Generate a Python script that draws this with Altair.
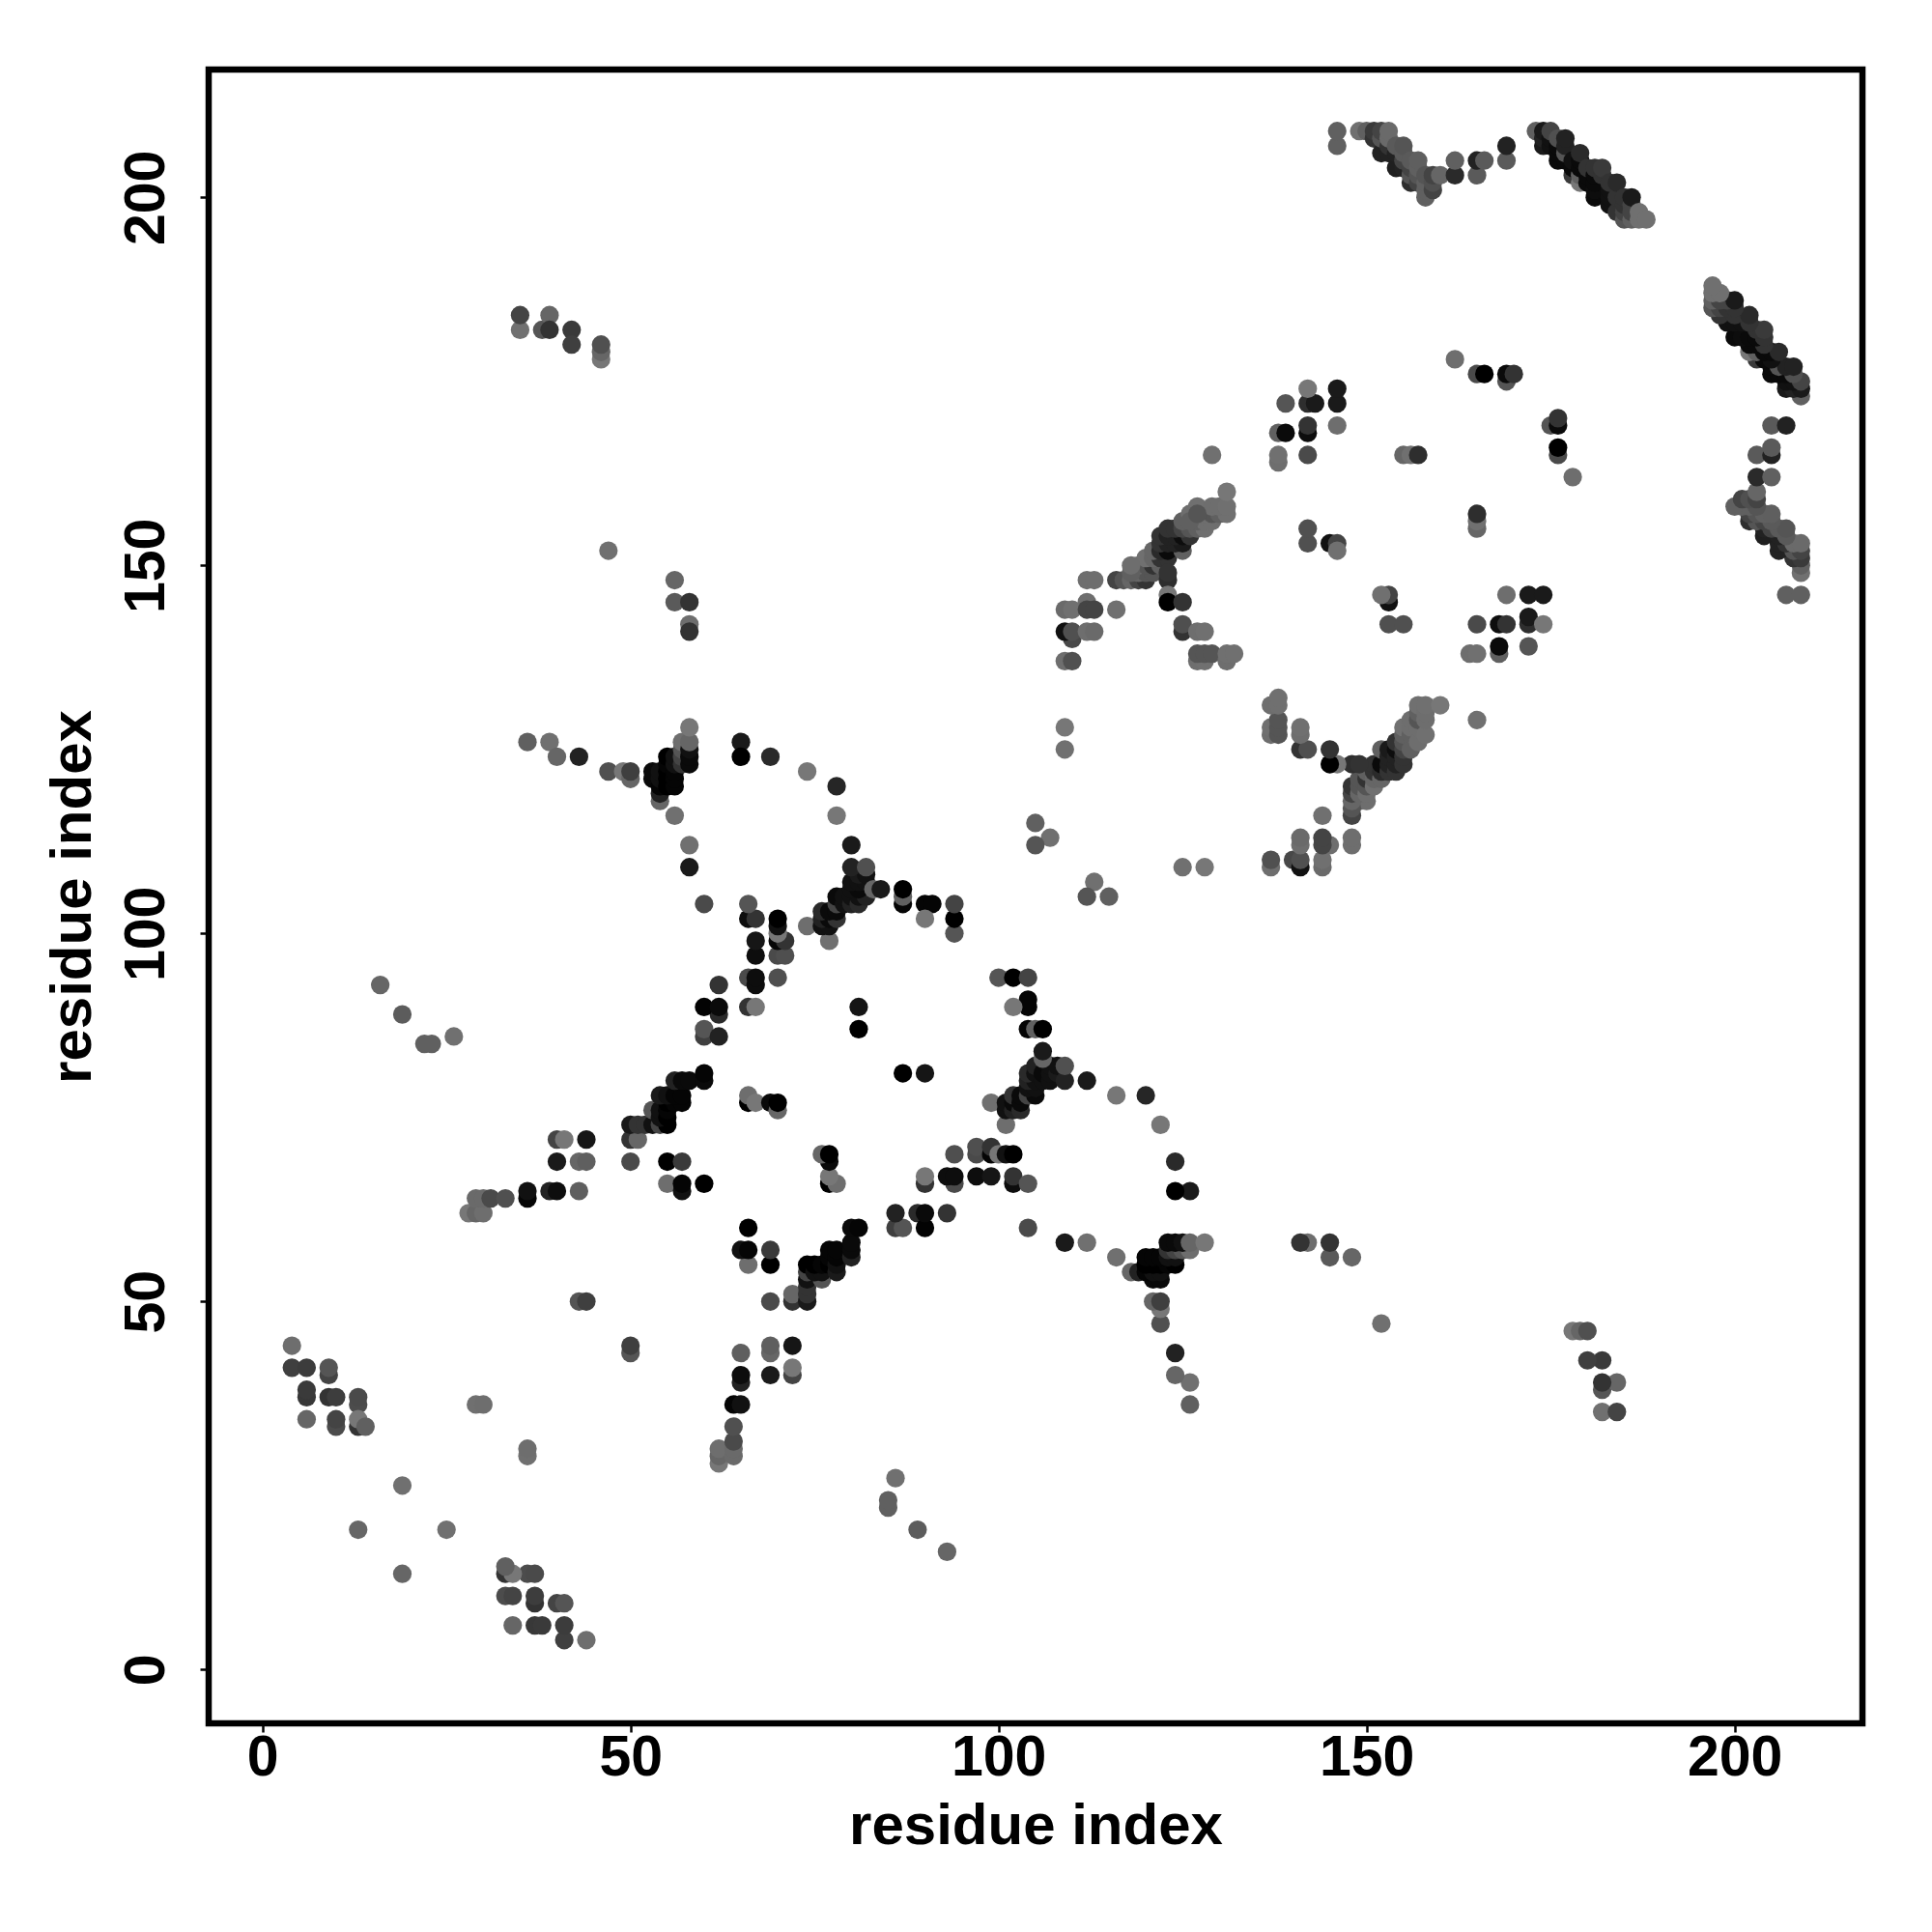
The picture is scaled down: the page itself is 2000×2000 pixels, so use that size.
import altair as alt
import pandas as pd

# contacts (residue i, residue j, grey level); the map is symmetric
nterm = [(4,44,0x6e),(4,41,0x3f),(6,41,0x3c),(9,40,0x44),(9,41,0x55),(6,37,0x38),(6,38,0x3a),(9,37,0x33),(10,37,0x3d),
         (13,36,0x4c),(13,37,0x4a),(6,34,0x66),(10,33,0x4c),(10,34,0x44),(13,33,0x33),(13,34,0x77),(14,33,0x60)]
sparse = [(13,19,0x66),(19,25,0x70),(29,36,0x70),(30,36,0x6e),(16,93,0x66),(19,89,0x5c),(22,85,0x60),(23,85,0x60),(26,86,0x70),
          (43,50,0x55),(44,50,0x3f),(47,152,0x70),(56,148,0x66),(56,145,0x5a),(58,145,0x33),(58,142,0x6e),(58,141,0x33),
          (35,182,0x70),(35,184,0x44),(38,182,0x55),(39,184,0x66),(39,182,0x33),(42,182,0x3a),(42,180,0x3f),(46,178,0x77),(46,179,0x66),(46,180,0x50),
          (36,126,0x60),(39,126,0x70),(40,124,0x66),(43,124,0x22),(105,115,0x60),(107,113,0x70),(105,112,0x55),(109,125,0x70),(109,128,0x77),
          (56,116,0x70),(58,112,0x70),(58,109,0x1a),(60,104,0x4a),(65,126,0x1a),(65,124,0x00),(69,124,0x2a),
          (74,122,0x77),(78,120,0x26),(78,116,0x77),(81,87,0x00),(81,90,0x15)]
strand_a = [(28,62,0x77),(29,62,0x66),(30,62,0x6e),(29,64,0x6a),(30,64,0x6a),(31,64,0x4a),(33,64,0x50),(36,64,0x05),(36,65,0x11),
            (39,65,0x22),(40,65,0x0d),(43,65,0x5f),(40,69,0x1a),(43,69,0x66),(44,69,0x5f),(40,72,0x44),(41,72,0x77),(44,72,0x16),
            (50,69,0x4a),(50,72,0x33),(51,72,0x66),(50,74,0x1a),(51,74,0x33),(52,74,0x33),(53,74,0x11),(54,74,0x44),(55,74,0x00),
            (53,76,0x55),(54,75,0x11),(54,76,0x11),(55,75,0x00),(55,76,0x05),(55,77,0x00),(56,77,0x05),(57,77,0x05),
            (54,78,0x1a),(55,78,0x11),(56,78,0x05),(57,78,0x05),(56,80,0x22),(57,80,0x0a),(58,80,0x0a),(60,80,0x0a),(60,81,0x05),
            (60,86,0x3f),(60,87,0x55),(62,86,0x22),(62,89,0x2a),(60,90,0x03),(62,90,0x0a),(62,93,0x33),
            (55,66,0x6e),(57,65,0x11),(57,66,0x05),(60,66,0x00),(55,69,0x00),(57,69,0x3a),
            (66,77,0x00),(66,78,0x6e),(67,77,0x77),(69,77,0x0a),(70,76,0x66),(70,77,0x00),(66,90,0x33),(67,90,0x77),
            (65,57,0x1a),(66,57,0x00),(69,57,0x33),(66,55,0x6a),(69,55,0x00),(66,60,0x06),(80,60,0x05),(81,60,0x00),
            (80,56,0x2a),(80,57,0x1a),(80,58,0x0d),(77,55,0x05),(77,56,0x05),(77,57,0x0a),(78,54,0x1a),(78,55,0x00),(78,56,0x00),(78,57,0x00),
            (76,53,0x44),(76,54,0x22),(76,55,0x22),(69,50,0x44),(72,50,0x33),(72,51,0x60),
            (86,60,0x3a),(87,60,0x55),(90,60,0x0a),(86,62,0x22),(89,62,0x2a),(90,62,0x0a),(93,62,0x33),(90,66,0x33),(90,67,0x77),
            (65,43,0x6e),(69,43,0x60),(69,44,0x6e),(72,44,0x16),(77,70,0x00),(76,70,0x6e),(77,69,0x05),(77,67,0x88),(77,66,0x00),(78,66,0x5a)]
core_b = [(66,94,0x4a),(67,93,0x0d),(67,94,0x0d),(70,94,0x4f),(67,97,0x0d),(70,97,0x4a),(71,97,0x4f),(67,99,0x16),(70,99,0x05),(71,99,0x33),
          (70,100,0x77),(70,101,0x11),(70,102,0x00),(66,102,0x0d),(67,102,0x33),(66,104,0x55),
          (74,101,0x6e),(77,99,0x70),(76,101,0x11),(77,101,0x11),(76,102,0x22),(77,102,0x0a),(78,102,0x33),(76,103,0x2a),(77,103,0x0a),(78,103,0x0a),
          (78,104,0x44),(78,105,0x0a),(79,104,0x11),(79,105,0x11),(80,104,0x22),(80,105,0x11),(81,104,0x2a),(81,105,0x11),(82,105,0x22),
          (80,106,0x11),(81,106,0x0a),(80,107,0x11),(81,107,0x11),(82,107,0x11),(81,108,0x1a),(82,108,0x11),(80,109,0x22),(82,109,0x50),(80,112,0x1a),
          (83,106,0x66),(84,106,0x1a),(87,104,0x05),(87,105,0x60),(87,106,0x00),(90,104,0x05),(91,104,0x05),(90,102,0x77),(94,100,0x55),(94,102,0x00),(94,104,0x44)]
core_c = [(47,122,0x50),(49,122,0x77),(50,121,0x66),(50,122,0x3f),(53,121,0x0a),(53,122,0x0a),(54,118,0x66),(54,119,0x22),(54,120,0x05),(54,121,0x11),(54,122,0x11),
          (55,120,0x00),(55,121,0x00),(55,122,0x00),(55,123,0x05),(55,124,0x00),(56,120,0x05),(56,121,0x05),(56,122,0x05),(56,123,0x11),(56,124,0x11),
          (57,123,0x33),(57,124,0x44),(57,125,0x55),(57,126,0x6e),(58,123,0x0a),(58,124,0x0a),(58,125,0x11),(58,126,0x66),(58,128,0x77)]
core_d = [(109,137,0x6e),(110,137,0x50),(110,140,0x48),(109,141,0x11),(110,141,0x50),(112,141,0x6e),(113,141,0x6a),(109,144,0x6a),(110,144,0x70),
          (112,145,0x6e),(112,144,0x44),(113,144,0x44),(116,144,0x70),(112,148,0x6e),(113,148,0x6e),
          (116,148,0x44),(117,148,0x55),(118,148,0x66),(119,148,0x44),(120,148,0x33),(119,149,0x66),(120,149,0x55),(121,149,0x55),
          (119,150,0x6e),(120,150,0x55),(121,150,0x33),(122,150,0x60),(120,151,0x70),(121,151,0x66),(122,151,0x33),(123,151,0x33),
          (121,152,0x66),(122,152,0x2a),(123,152,0x0a),(125,152,0x60),(122,153,0x33),(123,153,0x22),(124,153,0x22),(125,153,0x1a),
          (122,154,0x33),(123,154,0x22),(124,154,0x22),(125,154,0x0d),(126,154,0x33),(123,155,0x33),(124,155,0x33),(125,155,0x44),(126,155,0x55),(127,155,0x60),(128,155,0x70),
          (125,156,0x60),(127,156,0x60),(128,156,0x6e),(129,156,0x6e),(126,157,0x6e),(128,157,0x6e),(129,157,0x55),(130,157,0x60),(131,157,0x70),
          (127,158,0x70),(129,158,0x6e),(130,158,0x6e),(131,158,0x70),(131,160,0x77),
          (123,148,0x2e),(123,149,0x33),(123,146,0x77),(123,145,0x00),(125,145,0x33),(125,141,0x33),(125,142,0x4f),(127,141,0x6e),(128,141,0x70),
          (127,137,0x6e),(128,137,0x70),(127,138,0x55),(128,138,0x55),(129,138,0x55),(131,137,0x6e),(131,138,0x70),(132,138,0x70),(129,165,0x70)]
core_e = [(137,109,0x6e),(137,110,0x50),(140,110,0x4a),(141,110,0x3a),(141,109,0x14),(141,112,0x6a),(141,113,0x6e),(144,109,0x77),(144,110,0x70),(144,112,0x44),(144,113,0x3a),
          (145,112,0x70),(144,116,0x70),(148,112,0x6e),(148,113,0x70)]
core_f = [(148,116,0x44),(148,117,0x60),(148,118,0x60),(148,119,0x55),(148,120,0x50),(149,118,0x60),(149,119,0x55),(149,120,0x33),(149,121,0x66),
          (150,118,0x6e),(150,119,0x60),(150,120,0x33),(150,121,0x11),(150,122,0x2a),(151,120,0x50),(151,121,0x22),(151,122,0x11),(151,123,0x11),
          (152,121,0x60),(152,122,0x11),(152,123,0x0d),(152,125,0x6e),(153,122,0x33),(153,123,0x22),(153,124,0x1a),(153,125,0x11),
          (154,122,0x33),(154,123,0x33),(154,124,0x0d),(154,125,0x1a),(155,123,0x44),(155,124,0x33),(155,125,0x33),(155,126,0x44),(155,127,0x60),(155,128,0x6e),
          (156,125,0x60),(156,126,0x60),(156,127,0x4f),(156,128,0x6e),(156,129,0x6e),(157,126,0x70),(157,127,0x55),(157,128,0x55),(157,129,0x50),(157,131,0x6e),
          (158,127,0x77),(158,129,0x6a),(158,131,0x60),(160,131,0x70),
          (145,123,0x00),(145,125,0x2e),(146,123,0x6e),(148,123,0x44),(149,123,0x33),(141,125,0x33),(142,125,0x50),(141,127,0x60),(141,128,0x6e),
          (138,127,0x50),(138,128,0x50),(138,129,0x50),(137,127,0x77),(137,128,0x6e),(137,131,0x70),(138,131,0x6e),(138,132,0x70),(165,129,0x70)]
ring = [(142,153,0x50),(142,155,0x50),(145,153,0x11),(146,153,0x44),(146,152,0x70),(165,155,0x66),(165,156,0x70),(165,157,0x2e),(152,146,0x6e),(153,146,0x44),(153,145,0x1a),
        (153,142,0x50),(155,142,0x5a),(138,164,0x6e),(138,165,0x70),(142,165,0x4a),(138,168,0x60),(139,168,0x0a),(142,168,0x0d),(142,169,0x33),(146,169,0x6e),
        (139,172,0x55),(142,172,0x2e),(143,172,0x1a),(146,172,0x1a),(142,174,0x77),(146,174,0x1a),(162,178,0x6e),(165,176,0x4a),(166,176,0x00),(169,175,0x55),(169,176,0x0a),(170,176,0x33),
        (175,169,0x33),(176,169,0x11),(176,170,0x55),(176,165,0x6a),(176,166,0x0d),(178,162,0x70)]
band1 = [(146,207,0x60),(146,209,0x60),(149,209,0x70),(150,209,0x60),(151,208,0x33),(151,209,0x3a),(152,206,0x22),(152,208,0x55),(152,209,0x44),(153,206,0x22),(153,207,0x33),(153,208,0x6a),(153,209,0x6a),
         (154,204,0x1f),(154,206,0x22),(154,207,0x5a),(155,204,0x22),(155,205,0x44),(155,206,0x5a),(155,207,0x55),(156,202,0x2e),(156,203,0x55),(156,204,0x44),(156,205,0x5a),
         (157,202,0x44),(157,203,0x55),(157,204,0x60),(157,205,0x5f),(158,200,0x60),(158,201,0x60),(158,202,0x60),(158,203,0x55),(159,201,0x44),(159,202,0x50),(159,203,0x44),(160,203,0x66),
         (162,203,0x2a),(162,205,0x60),(165,203,0x5a),(165,205,0x22),(166,205,0x5a),(169,205,0x5a),(169,207,0x22)]
band2 = [(173,209,0x60),(174,207,0x1a),(174,208,0x22),(174,209,0x1a),(175,207,0x11),(175,208,0x11),(175,209,0x44),(176,205,0x0a),(176,206,0x0a),(176,207,0x0a),(176,208,0x50),(177,205,0x0a),(177,206,0x55),(177,207,0x22),(177,208,0x22),
         (178,203,0x3a),(178,204,0x0a),(178,205,0x11),(179,202,0x77),(179,203,0x60),(179,204,0x0a),(179,205,0x0a),(179,206,0x2a),(180,202,0x0a),(180,203,0x0a),(180,204,0x33),(181,200,0x0a),(181,201,0x0d),(181,202,0x0a),(181,203,0x0a),(181,204,0x33),(182,203,0x33),(182,204,0x3a),
         (183,199,0x11),(183,200,0x11),(183,201,0x11),(183,202,0x33),(184,198,0x33),(184,200,0x33),(184,202,0x2a),(185,197,0x55),(185,198,0x44),(185,199,0x33),(185,200,0x33),(186,199,0x44),(186,197,0x60),(186,198,0x44),(186,200,0x1a),(187,197,0x70),(187,198,0x70),(188,197,0x70)]

groups = [nterm, sparse, strand_a, core_b, core_c, core_d, core_e, core_f, ring, band1, band2]
tick_vals = [0, 50, 100, 150, 200]

rows = []
seen = set()
for g in groups:
    for a, b, c in g:
        if (a, b) in seen:
            continue
        seen.add((a, b)); seen.add((b, a))
        rows.append({"x": a, "y": b, "c": f"#{c:02x}{c:02x}{c:02x}"})
for g in groups:
    for a, b, c in g:
        key = ("m", a, b)
        if key in seen:
            continue
        seen.add(key); seen.add(("m", b, a))
        rows.append({"x": b, "y": a, "c": f"#{c:02x}{c:02x}{c:02x}"})
df = pd.DataFrame(rows)

FONT = "Liberation Sans"
dom = [-7.31, 217.36]
x_axis = alt.Axis(values=tick_vals, grid=False, domain=False, tickSize=9, tickWidth=2.5, tickColor="black",
                  labelFont=FONT, labelFontSize=59, labelFontWeight="bold", labelColor="black", labelPadding=-3,
                  title="residue index", titleFont=FONT, titleFontSize=60, titleFontWeight="bold", titleColor="black", titlePadding=12)
y_axis = alt.Axis(values=tick_vals, grid=False, domain=False, tickSize=9, tickWidth=2.5, tickColor="black",
                  labelFont=FONT, labelFontSize=59, labelFontWeight="bold", labelColor="black", labelPadding=26,
                  labelAngle=-90, labelAlign="center", labelBaseline="bottom",
                  title="residue index", titleFont=FONT, titleFontSize=60, titleFontWeight="bold", titleColor="black", titlePadding=16)

chart = alt.Chart(df).mark_point(filled=True, size=370, opacity=1, strokeWidth=0).encode(
    x=alt.X("x:Q", scale=alt.Scale(domain=dom, nice=False, zero=False), axis=x_axis),
    y=alt.Y("y:Q", scale=alt.Scale(domain=dom, nice=False, zero=False), axis=y_axis),
    color=alt.Color("c:N", scale=None),
).properties(
    width=1712, height=1712,
    autosize=alt.AutoSizeParams(type="none"),
    padding={"left": 208, "top": 64, "right": 60, "bottom": 200},
    background="white",
).configure_view(stroke="black", strokeWidth=6.5)

chart.save("out.html", embed_options={"renderer": "svg", "actions": False})
